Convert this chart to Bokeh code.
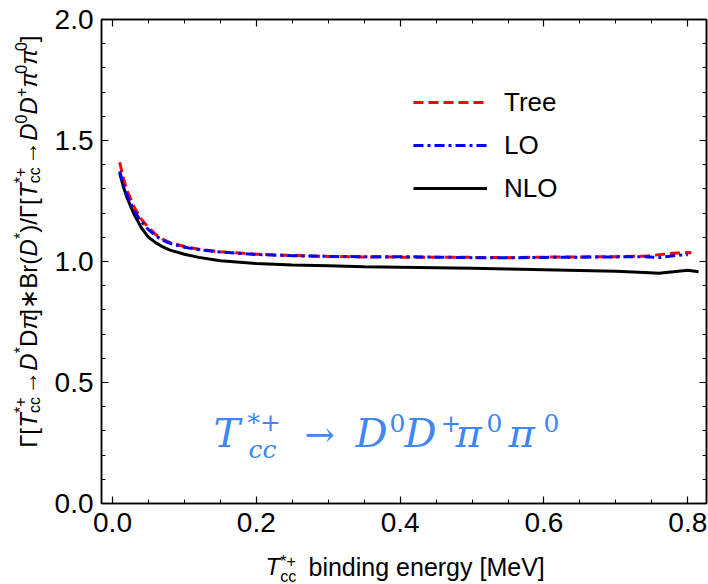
import math
from bokeh.plotting import figure
from bokeh.layouts import row, column
from bokeh.models import (Range1d, LinearAxis, FixedTicker, PrintfTickFormatter,
                          Label, Legend, LegendItem)
from bokeh.embed import file_html
from bokeh.resources import INLINE

# ---------------- data ----------------
series_names = ["Tree", "LO", "NLO"]

x_tree = [0.010, 0.015, 0.020, 0.030, 0.040, 0.050, 0.060, 0.070, 0.080, 0.100,
          0.120, 0.150, 0.200, 0.250, 0.300, 0.350, 0.400, 0.450, 0.500, 0.550,
          0.600, 0.650, 0.700, 0.740, 0.760, 0.780, 0.800, 0.805]
tree = [1.410, 1.345, 1.295, 1.225, 1.175, 1.140, 1.112, 1.092, 1.078, 1.062,
        1.051, 1.040, 1.030, 1.025, 1.021, 1.019, 1.018, 1.018, 1.017, 1.016,
        1.018, 1.019, 1.020, 1.022, 1.028, 1.034, 1.037, 1.036]

x_lo = [0.010, 0.015, 0.020, 0.030, 0.040, 0.050, 0.060, 0.070, 0.080, 0.100,
        0.120, 0.150, 0.200, 0.250, 0.300, 0.350, 0.400, 0.450, 0.500, 0.550,
        0.600, 0.650, 0.700, 0.740, 0.760, 0.780, 0.800]
lo = [1.373, 1.320, 1.275, 1.210, 1.165, 1.132, 1.106, 1.088, 1.075, 1.059,
      1.049, 1.039, 1.029, 1.024, 1.021, 1.020, 1.020, 1.018, 1.016, 1.015,
      1.017, 1.018, 1.019, 1.020, 1.016, 1.024, 1.028]

x_nlo = [0.010, 0.015, 0.020, 0.030, 0.040, 0.050, 0.060, 0.070, 0.080, 0.100,
         0.120, 0.150, 0.200, 0.250, 0.300, 0.350, 0.400, 0.450, 0.500, 0.550,
         0.600, 0.650, 0.700, 0.740, 0.760, 0.780, 0.800, 0.815]
nlo = [1.365, 1.310, 1.265, 1.195, 1.140, 1.100, 1.078, 1.060, 1.047, 1.030,
       1.017, 1.003, 0.992, 0.986, 0.982, 0.978, 0.976, 0.974, 0.972, 0.969,
       0.966, 0.963, 0.960, 0.955, 0.951, 0.958, 0.964, 0.958]

x_ticks = [0.0, 0.2, 0.4, 0.6, 0.8]
y_ticks = [0.0, 0.5, 1.0, 1.5, 2.0]
x_minor = [round(0.05 * i, 2) for i in range(0, 17)]
y_minor = [round(0.1 * i, 1) for i in range(0, 21)]

# ---------------- geometry (page pixels) ----------------
W, H = 708, 584
YL_W = 46          # width of the strip holding the y-axis title
XL_H = 36          # height of the strip holding the x-axis title
MAIN_W, MAIN_H = W - YL_W, H - XL_H
FL, FR, FT, FB = 101, 706, 19, 503      # frame edges in page pixels
X0, X1 = -0.0153, 0.826
Y0, Y1 = 0.0, 2.0
SANS = "Liberation Sans"
BASE_FIX = 0.36    # Label 'alphabetic' anchor sits this many em below the baseline


def main_to_data(px, py):
    qx = px - YL_W                     # page px -> main-figure px
    dx = X0 + (qx - (FL - YL_W)) / (FR - FL) * (X1 - X0)
    dy = Y1 - (py - FT) / (FB - FT) * (Y1 - Y0)
    return dx, dy


p = figure(width=MAIN_W, height=MAIN_H, x_range=Range1d(X0, X1), y_range=Range1d(Y0, Y1),
           output_backend="svg", toolbar_location=None,
           min_border_left=FL - YL_W, min_border_right=W - FR,
           min_border_top=FT, min_border_bottom=MAIN_H - FB)
p.background_fill_color = "white"
p.border_fill_color = "white"
p.xgrid.visible = False
p.ygrid.visible = False
p.outline_line_color = "black"
p.outline_line_width = 1.5


def style_axis(ax, show_labels):
    ax.axis_line_color = "black"
    ax.axis_line_width = 1.5
    ax.major_tick_in = 7
    ax.major_tick_out = 0
    ax.minor_tick_in = 4
    ax.minor_tick_out = 0
    ax.major_tick_line_color = "black"
    ax.minor_tick_line_color = "black"
    ax.major_tick_line_width = 1.2
    ax.minor_tick_line_width = 1
    ax.major_label_text_font = SANS
    ax.major_label_text_color = "black"
    if show_labels:
        ax.major_label_text_font_size = "28px"
        ax.major_label_standoff = 8
    else:
        ax.major_label_text_font_size = "1px"
        ax.major_label_text_alpha = 0
        ax.major_label_standoff = 0


fmt = PrintfTickFormatter(format="%.1f")
p.xaxis.ticker = FixedTicker(ticks=x_ticks, minor_ticks=x_minor)
p.yaxis.ticker = FixedTicker(ticks=y_ticks, minor_ticks=y_minor)
p.xaxis.formatter = fmt
p.yaxis.formatter = fmt
style_axis(p.xaxis[0], True)
style_axis(p.yaxis[0], True)
p.xaxis.major_label_standoff = 9

top_ax = LinearAxis(ticker=FixedTicker(ticks=x_ticks, minor_ticks=x_minor))
right_ax = LinearAxis(ticker=FixedTicker(ticks=y_ticks, minor_ticks=y_minor))
style_axis(top_ax, False)
style_axis(right_ax, False)
p.add_layout(top_ax, "above")
p.add_layout(right_ax, "right")

# ---------------- curves ----------------
r_nlo = p.line(x_nlo, nlo, line_color="black", line_width=3)
r_tree = p.line(x_tree, tree, line_color="#ff0000", line_width=3, line_dash="10 5")
r_lo = p.line(x_lo, lo, line_color="#0000ff", line_width=3, line_dash="10 4 3 4")

legend = Legend(items=[LegendItem(label=series_names[0], renderers=[r_tree]),
                       LegendItem(label=series_names[1], renderers=[r_lo]),
                       LegendItem(label=series_names[2], renderers=[r_nlo])],
                location=(312, 299), padding=0, margin=0, spacing=11,
                glyph_width=74, glyph_height=32, label_height=32,
                label_standoff=17, label_text_font=SANS,
                label_text_font_size="26px", label_text_color="black",
                border_line_alpha=0, background_fill_alpha=0)
p.add_layout(legend)

# ---------------- strips for the axis titles ----------------
ylf = figure(width=YL_W, height=MAIN_H, x_range=Range1d(0, YL_W), y_range=Range1d(MAIN_H, 0),
             x_axis_type=None, y_axis_type=None, min_border=0,
             output_backend="svg", toolbar_location=None)
ylf.outline_line_color = None
ylf.background_fill_color = "white"
ylf.border_fill_color = "white"

xlf = figure(width=W, height=XL_H, x_range=Range1d(0, W), y_range=Range1d(XL_H, 0),
             x_axis_type=None, y_axis_type=None, min_border=0,
             output_backend="svg", toolbar_location=None)
xlf.outline_line_color = None
xlf.background_fill_color = "white"
xlf.border_fill_color = "white"

PANELS = {
    "main": (p, main_to_data),
    "ylab": (ylf, lambda px, py: (px, py)),
    "xlab": (xlf, lambda px, py: (px, py - MAIN_H)),
}


def add_label(panel, px, py, text, size, style="normal", font=SANS, color="black", angle=0.0):
    fig, conv = PANELS[panel]
    if angle == 0.0:
        py = py - BASE_FIX * size
    else:
        px = px - BASE_FIX * size
    dx, dy = conv(px, py)
    fig.add_layout(Label(x=dx, y=dy, x_units="data", y_units="data", text=text,
                         text_font=font, text_font_size=f"{size}px",
                         text_font_style=style, text_color=color, angle=angle,
                         text_align="left", text_baseline="alphabetic"))


WID = {"Γ": 0.556, "[": 0.278, "]": 0.278, "T": 0.611, "*": 0.389, "+": 0.584,
       "c": 0.5, "→": 1.0, "D": 0.722, "π": 0.57, "B": 0.667, "r": 0.333,
       "(": 0.333, ")": 0.333, "/": 0.278, "0": 0.556, "∗": 0.838, " ": 0.278}


def tw(s, size):
    return sum(WID.get(ch, 0.556) for ch in s) * size


def rich(panel, segs, start, base, vertical, main, script, sup_shift, sub_shift, k):
    cur = start
    ang = math.pi / 2 if vertical else 0.0
    for seg in segs:
        kind = seg[1]
        if kind == "stack":
            sup_t, sub_t = seg[0]
            for t, sh in ((sup_t, sup_shift), (sub_t, sub_shift)):
                if vertical:
                    add_label(panel, base + sh, cur, t, script, angle=ang)
                else:
                    add_label(panel, cur, base + sh, t, script, angle=ang)
            adv = max(tw(sup_t, script), tw(sub_t, script)) + 2
        else:
            t = seg[0]
            style = "italic" if seg[2] else "normal"
            font = "DejaVu Sans" if t.strip() == "∗" else SANS
            size = script if kind in ("sup", "sub") else main
            sh = sup_shift if kind == "sup" else (sub_shift if kind == "sub" else 0)
            if vertical:
                add_label(panel, base + sh, cur, t, size, style, font, angle=ang)
            else:
                add_label(panel, cur, base + sh, t, size, style, font, angle=ang)
            adv = tw(t, size)
        adv *= k
        cur = cur - adv if vertical else cur + adv


ylab = [("Γ[", "n", False), ("T", "n", True), (("*+", "cc"), "stack"),
        ("→", "n", False), ("D", "n", True), ("*", "sup", False), ("D", "n", False),
        ("π", "n", True), ("]", "n", False), ("∗", "n", False), ("Br(", "n", False),
        ("D", "n", True), ("*", "sup", False), (")/Γ[", "n", False), ("T", "n", True),
        (("*+", "cc"), "stack"), ("→", "n", False), ("D", "n", True), ("0", "sup", False),
        ("D", "n", True), ("+", "sup", False), ("π", "n", True), ("0", "sup", False),
        ("π", "n", True), ("0", "sup", False), ("]", "n", False)]
rich("ylab", ylab, 485, 37, True, 24, 16, -11, 3, 1.14)

xlab = [("T", "n", True), (("*+", "cc"), "stack")]
rich("xlab", xlab, 265, 575, False, 24, 16, -8, 7, 1.0)
add_label("xlab", 308, 575, "binding energy [MeV]", 25)

# ---------------- blue annotation (inside the frame) ----------------
BLUE = "#3f87f5"
SER = "DejaVu Serif"
ann = [("T", 213, 447, 40, "italic"), ("*+", 247, 431, 25, "normal"),
       ("cc", 248, 458, 25, "italic"), ("→", 304, 447, 36, "normal"),
       ("D", 355, 447, 40, "italic"), ("0", 389, 431, 25, "normal"),
       ("D", 404, 447, 40, "italic"), ("+", 440, 431, 25, "normal"),
       ("π", 455, 447, 40, "italic"), ("0", 486, 431, 25, "normal"),
       ("π", 508, 447, 40, "italic"), ("0", 543, 431, 25, "normal")]
for t, px_, py_, sz, st in ann:
    add_label("main", px_, py_, t, sz, st, SER, BLUE)

layout = column(row(ylf, p, spacing=0), xlf, spacing=0)
open("out.html", "w").write(file_html(layout, INLINE))
